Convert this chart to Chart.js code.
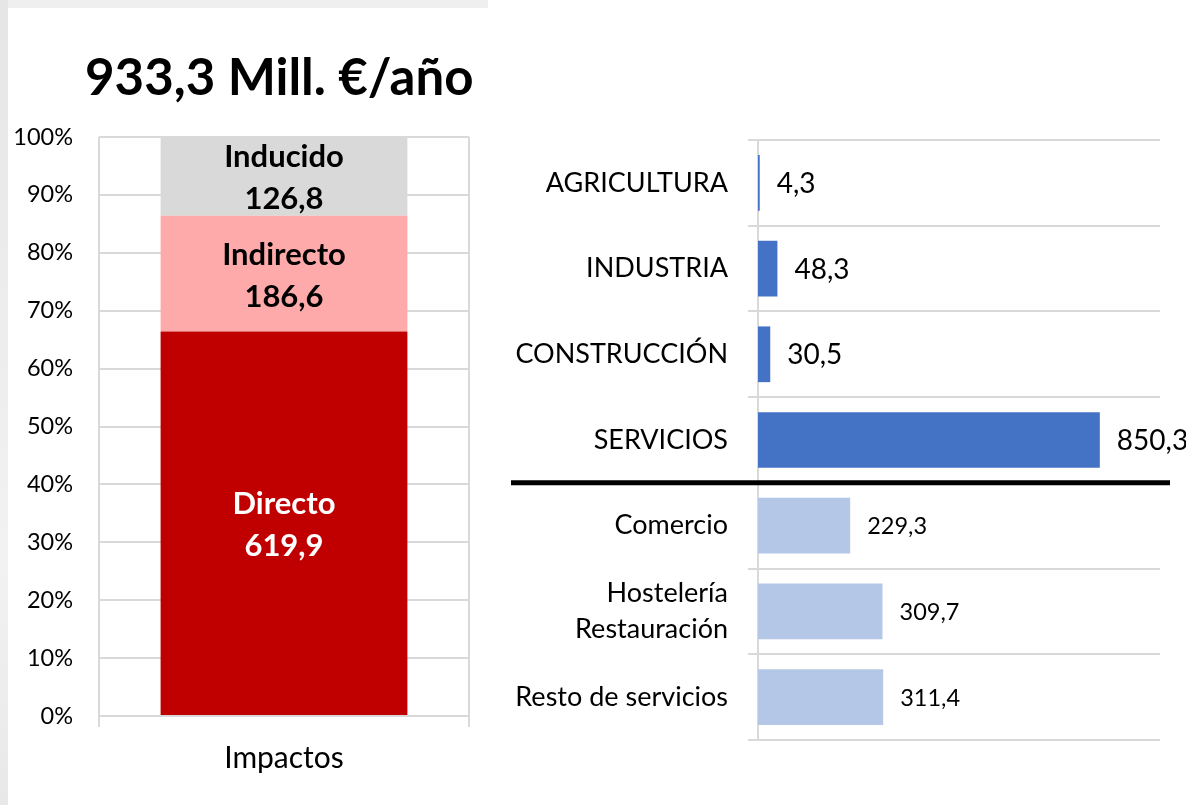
<!DOCTYPE html>
<html>
<head>
<meta charset="utf-8">
<script src="https://cdn.jsdelivr.net/npm/chart.js@4.4.1/dist/chart.umd.min.js"></script>
<style>
  html, body { margin: 0; padding: 0; background: #fff; }
  #stage { position: relative; width: 1186px; height: 805px; overflow: hidden; }
  #topStrip { position: absolute; left: 0; top: 0; width: 488px; height: 8px; background: #efefef; }
  #leftStrip { position: absolute; left: 0; top: 0; width: 8px; height: 805px; background: linear-gradient(#e6e6e6, #f2f2f2 70%, #e8e8e8); }
  #title {
    position: absolute; left: 85px; top: 50px;
    font-family: Lato, sans-serif; font-weight: bold; font-size: 51px; line-height: 1;
    color: #000; white-space: nowrap;
  }
  #leftCanvas { position: absolute; left: 0; top: 0; }
  #rightCanvas { position: absolute; left: 490px; top: 0; }
</style>
</head>
<body>
<div id="stage">
  <div id="topStrip"></div>
  <div id="leftStrip"></div>
  <canvas id="leftCanvas" width="490" height="805"></canvas>
  <canvas id="rightCanvas" width="696" height="805"></canvas>
  <div id="title"></div>
</div>
<script>
// data
const impactCategory = ["Impactos"];
const impactLabels = ["Directo", "Indirecto", "Inducido"];
const impactValues = [619.9, 186.6, 126.8];
const percentTicks = [0, 10, 20, 30, 40, 50, 60, 70, 80, 90, 100];

const sectorLabels = [
  "AGRICULTURA",
  "INDUSTRIA",
  "CONSTRUCCIÓN",
  "SERVICIOS",
  "Comercio",
  ["Hostelería", "Restauración"],
  "Resto de servicios",
];
const sectorValues = [4.3, 48.3, 30.5, 850.3, 229.3, 309.7, 311.4];

// styles
const FONT = "Lato";
const impactColors = ["#c00000", "#ffaaaa", "#d9d9d9"];
const impactTextColors = ["#ffffff", "#000000", "#000000"];
const gridColor = "#d9d9d9";

function fmt(v) {
  return v.toFixed(1).replace(".", ",");
}

const total = impactValues.reduce((a, b) => a + b, 0);
document.getElementById("title").textContent = fmt(total) + " Mill. €/año";

Chart.defaults.animation = false;
Chart.defaults.font.family = FONT;
Chart.defaults.color = "#000";

// labels inside the stacked bar
const segmentLabels = {
  id: "segmentLabels",
  afterDatasetsDraw(chart) {
    const ctx = chart.ctx;
    ctx.save();
    ctx.font = "bold 31px " + FONT;
    ctx.textAlign = "center";
    ctx.textBaseline = "middle";
    chart.data.datasets.forEach((ds, i) => {
      chart.getDatasetMeta(i).data.forEach((bar) => {
        const cy = (bar.y + bar.base) / 2;
        ctx.fillStyle = impactTextColors[i];
        ctx.fillText(ds.label, bar.x, cy - 19);
        ctx.fillText(fmt(impactValues[i]), bar.x, cy + 23);
      });
    });
    ctx.restore();
  },
};

function leftChart() {
  const ctx = document.getElementById("leftCanvas").getContext("2d");
  new Chart(ctx, {
    type: "bar",
    data: {
      labels: impactCategory,
      datasets: impactLabels.map((name, i) => ({
        label: name,
        data: [(impactValues[i] / total) * 100],
        backgroundColor: impactColors[i],
        barPercentage: 0.667,
        categoryPercentage: 1,
      })),
    },
    options: {
      responsive: false,
      layout: { padding: { top: 137, right: 21, bottom: 0, left: 0 } },
      plugins: {
        legend: { display: false },
        tooltip: { enabled: false },
      },
      scales: {
        x: {
          stacked: true,
          grid: { color: gridColor, lineWidth: 2, tickLength: 11, offset: true },
          border: { display: false },
          ticks: { font: { size: 30 }, padding: 13 },
          afterFit: (s) => { s.height = 89; },
        },
        y: {
          stacked: true,
          min: 0,
          max: 100,
          afterBuildTicks: (s) => { s.ticks = percentTicks.map((v) => ({ value: v })); },
          ticks: { font: { size: 23.5 }, padding: 26, callback: (v) => v + "%" },
          grid: { color: gridColor, lineWidth: 2, drawTicks: false },
          border: { display: false },
          afterFit: (s) => { s.width = 99; },
        },
      },
    },
    plugins: [segmentLabels],
  });
}

// value labels right of the bars
const valueLabels = {
  id: "valueLabels",
  afterDatasetsDraw(chart) {
    const ctx = chart.ctx;
    ctx.save();
    ctx.textAlign = "left";
    ctx.textBaseline = "middle";
    ctx.fillStyle = "#000";
    chart.getDatasetMeta(0).data.forEach((bar, i) => {
      ctx.font = (i < 4 ? 28 : 23.5) + "px " + FONT;
      ctx.fillText(fmt(sectorValues[i]), bar.x + 17, bar.y + 1);
    });
    ctx.restore();
  },
};

// thick black line between SERVICIOS and its breakdown
const separator = {
  id: "separator",
  afterDraw(chart) {
    const y = chart.scales.y;
    const py = (y.getPixelForValue(3) + y.getPixelForValue(4)) / 2;
    const ctx = chart.ctx;
    ctx.save();
    ctx.strokeStyle = "#000";
    ctx.lineWidth = 5;
    ctx.beginPath();
    ctx.moveTo(21, py);
    ctx.lineTo(680, py);
    ctx.stroke();
    ctx.restore();
  },
};

function rightChart() {
  const ctx = document.getElementById("rightCanvas").getContext("2d");
  new Chart(ctx, {
    type: "bar",
    data: {
      labels: sectorLabels,
      datasets: [
        {
          data: sectorValues,
          backgroundColor: sectorValues.map((v, i) => (i < 4 ? "#4472c4" : "#b4c7e7")),
          barPercentage: 0.65,
          categoryPercentage: 1,
        },
      ],
    },
    options: {
      responsive: false,
      indexAxis: "y",
      layout: { padding: { top: 140, right: 26, bottom: 65, left: 0 } },
      plugins: {
        legend: { display: false },
        tooltip: { enabled: false },
      },
      scales: {
        x: { display: false, min: 0, max: 1000 },
        y: {
          grid: { color: gridColor, lineWidth: 2, tickLength: 10, offset: true },
          border: { display: true, color: gridColor, width: 2 },
          ticks: { font: { size: 27, lineHeight: 1.35 }, padding: 20, autoSkip: false },
          afterFit: (s) => { s.width = 268; },
        },
      },
    },
    plugins: [valueLabels, separator],
  });
}

leftChart();
rightChart();
</script>
</body>
</html>
